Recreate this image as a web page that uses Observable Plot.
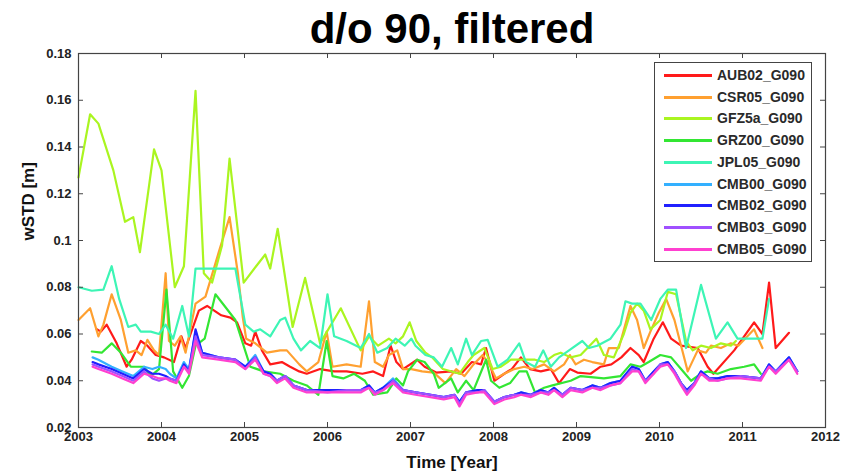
<!DOCTYPE html>
<html><head><meta charset="utf-8">
<script src="https://cdn.jsdelivr.net/npm/d3@7"></script>
<script src="https://cdn.jsdelivr.net/npm/@observablehq/plot@0.6"></script>
<style>
body{margin:0;background:#fff;}
#wrap{position:relative;width:841px;height:472px;font-family:Arial,"Liberation Sans",sans-serif;}
#legend{position:absolute;left:654px;top:62px;width:158px;height:200px;border:1px solid #444;background:#fff;box-sizing:border-box;}
.row{position:absolute;left:0;height:20px;display:flex;align-items:center;}
.sw{width:48px;height:3px;margin-left:9px;margin-right:5px;}
.lbl{font-size:14px;font-weight:bold;color:#2a2a2a;white-space:nowrap;}
</style></head>
<body><div id="wrap"><div id="legend"></div></div>
<script>
const title = "d/o 90, filtered";
const xLabel = "Time [Year]";
const yLabel = "wSTD [m]";
const xTicks = [2003, 2004, 2005, 2006, 2007, 2008, 2009, 2010, 2011, 2012];
const yTicks = [0.02, 0.04, 0.06, 0.08, 0.1, 0.12, 0.14, 0.16, 0.18];
const seriesNames = ["AUB02_G090", "CSR05_G090", "GFZ5a_G090", "GRZ00_G090", "JPL05_G090", "CMB00_G090", "CMB02_G090", "CMB03_G090", "CMB05_G090"];
const seriesColors = ["#ff1a1a", "#ffa030", "#aaf520", "#33e633", "#3df5b5", "#33b0ff", "#2020ff", "#a050ff", "#ff40d0"];

const aub02 = [[2003.22,.062],[2003.27,.061],[2003.34,.064],[2003.46,.056],[2003.58,.046],[2003.64,.049],[2003.75,.057],[2003.83,.055],[2003.93,.051],[2004.03,.050],[2004.15,.048],[2004.24,.059],[2004.29,.054],[2004.35,.060],[2004.45,.070],[2004.55,.072],[2004.72,.068],[2004.83,.067],[2004.91,.065],[2005.01,.056],[2005.08,.055],[2005.13,.061],[2005.21,.053],[2005.31,.047],[2005.45,.048],[2005.55,.046],[2005.66,.044],[2005.75,.043],[2005.91,.045],[2006.08,.044],[2006.23,.044],[2006.42,.043],[2006.55,.044],[2006.67,.042],[2006.76,.055],[2006.83,.048],[2006.91,.045],[2007.08,.049],[2007.17,.046],[2007.31,.0435],[2007.49,.044],[2007.61,.043],[2007.74,.048],[2007.85,.047],[2007.91,.054],[2008.01,.040],[2008.13,.043],[2008.22,.045],[2008.33,.050],[2008.44,.045],[2008.57,.044],[2008.69,.045],[2008.79,.039],[2008.92,.045],[2009.01,.0435],[2009.17,.043],[2009.29,.046],[2009.42,.047],[2009.54,.050],[2009.65,.054],[2009.75,.051],[2009.81,.048],[2009.93,.058],[2010.04,.065],[2010.14,.058],[2010.26,.055],[2010.46,.054],[2010.58,.046],[2010.65,.043],[2010.9,.053],[2011.14,.065],[2011.24,.060],[2011.32,.082],[2011.40,.054],[2011.56,.0605]];

const csr05 = [[2003.0,.066],[2003.14,.071],[2003.24,.059],[2003.30,.064],[2003.40,.077],[2003.51,.066],[2003.60,.052],[2003.69,.053],[2003.76,.051],[2003.83,.0575],[2003.91,.053],[2003.97,.051],[2004.05,.086],[2004.09,.057],[2004.16,.055],[2004.23,.059],[2004.29,.052],[2004.41,.073],[2004.53,.076],[2004.69,.095],[2004.82,.110],[2004.92,.086],[2004.98,.067],[2005.02,.058],[2005.13,.056],[2005.27,.052],[2005.43,.053],[2005.51,.053],[2005.66,.047],[2005.75,.044],[2005.89,.048],[2005.99,.061],[2006.06,.046],[2006.23,.047],[2006.40,.046],[2006.50,.074],[2006.57,.048],[2006.67,.046],[2006.74,.051],[2006.84,.053],[2006.91,.045],[2007.01,.045],[2007.14,.044],[2007.28,.0435],[2007.42,.039],[2007.55,.045],[2007.65,.042],[2007.76,.047],[2007.87,.051],[2007.95,.047],[2008.03,.041],[2008.13,.043],[2008.25,.045],[2008.37,.046],[2008.47,.045],[2008.61,.047],[2008.73,.044],[2008.85,.047],[2008.92,.051],[2008.99,.047],[2009.09,.049],[2009.19,.048],[2009.33,.047],[2009.39,.054],[2009.51,.054],[2009.65,.072],[2009.73,.066],[2009.81,.054],[2009.89,.061],[2009.99,.069],[2010.08,.075],[2010.18,.066],[2010.26,.055],[2010.34,.044],[2010.46,.053],[2010.56,.052],[2010.62,.055],[2010.74,.054],[2010.86,.056],[2010.95,.055],[2011.14,.062],[2011.24,.054]];

const gfz5a = [[2003.0,.127],[2003.14,.154],[2003.24,.150],[2003.42,.130],[2003.56,.108],[2003.66,.110],[2003.74,.095],[2003.91,.139],[2004.0,.130],[2004.16,.080],[2004.27,.089],[2004.41,.164],[2004.51,.086],[2004.61,.082],[2004.73,.098],[2004.82,.135],[2004.92,.104],[2004.99,.082],[2005.14,.089],[2005.25,.094],[2005.31,.088],[2005.40,.105],[2005.58,.063],[2005.73,.084],[2005.91,.056],[2006.16,.071],[2006.40,.053],[2006.50,.059],[2006.61,.055],[2006.74,.058],[2006.82,.056],[2006.91,.059],[2006.99,.065],[2007.07,.057],[2007.18,.052],[2007.26,.050],[2007.39,.045],[2007.59,.043],[2007.69,.048],[2007.76,.051],[2007.89,.054],[2007.99,.045],[2008.09,.046],[2008.21,.049],[2008.33,.049],[2008.50,.049],[2008.61,.048],[2008.73,.051],[2008.81,.052],[2008.93,.050],[2009.05,.051],[2009.24,.058],[2009.33,.051],[2009.45,.050],[2009.57,.060],[2009.65,.069],[2009.73,.073],[2009.81,.070],[2009.89,.062],[2010.01,.066],[2010.10,.078],[2010.20,.077],[2010.32,.057],[2010.40,.053],[2010.50,.055],[2010.62,.054],[2010.74,.056],[2010.86,.055],[2010.92,.057]];

const grz00 = [[2003.16,.0525],[2003.28,.052],[2003.40,.056],[2003.51,.052],[2003.63,.046],[2003.79,.046],[2003.87,.042],[2003.97,.045],[2004.06,.079],[2004.14,.044],[2004.25,.037],[2004.33,.042],[2004.41,.055],[2004.52,.058],[2004.65,.077],[2004.76,.072],[2004.89,.066],[2004.98,.056],[2005.07,.046],[2005.23,.044],[2005.43,.043],[2005.59,.040],[2005.75,.038],[2005.89,.034],[2005.99,.057],[2006.06,.042],[2006.19,.041],[2006.32,.043],[2006.45,.040],[2006.55,.034],[2006.72,.035],[2006.83,.041],[2006.91,.038],[2006.97,.044],[2007.08,.049],[2007.17,.048],[2007.28,.043],[2007.34,.037],[2007.49,.041],[2007.57,.035],[2007.67,.040],[2007.76,.036],[2007.91,.049],[2007.97,.040],[2008.07,.037],[2008.20,.039],[2008.31,.044],[2008.40,.044],[2008.50,.035],[2008.61,.037],[2008.71,.038],[2008.93,.040],[2009.05,.042],[2009.33,.041],[2009.53,.042],[2009.65,.047],[2009.77,.046],[2009.87,.048],[2010.01,.051],[2010.14,.050],[2010.26,.045],[2010.38,.040],[2010.50,.043],[2010.58,.044],[2010.70,.043],[2010.86,.045],[2011.02,.046],[2011.14,.047],[2011.22,.043]];

const jpl05 = [[2003.0,.080],[2003.16,.0785],[2003.30,.079],[2003.40,.089],[2003.49,.075],[2003.60,.063],[2003.69,.064],[2003.75,.061],[2003.87,.061],[2003.97,.060],[2004.05,.064],[2004.14,.058],[2004.25,.072],[2004.33,.059],[2004.41,.088],[2004.89,.088],[2005.01,.064],[2005.11,.061],[2005.19,.062],[2005.31,.059],[2005.43,.066],[2005.49,.067],[2005.59,.058],[2005.68,.053],[2005.79,.057],[2005.91,.054],[2006.00,.077],[2006.08,.059],[2006.23,.057],[2006.40,.054],[2006.50,.060],[2006.60,.052],[2006.72,.054],[2006.82,.058],[2006.93,.055],[2007.01,.058],[2007.06,.055],[2007.18,.051],[2007.28,.050],[2007.38,.046],[2007.49,.054],[2007.57,.047],[2007.67,.058],[2007.74,.051],[2007.85,.057],[2007.93,.0575],[2008.05,.046],[2008.17,.049],[2008.31,.056],[2008.39,.048],[2008.50,.046],[2008.60,.053],[2008.69,.046],[2008.79,.050],[2008.91,.053],[2009.07,.057],[2009.15,.054],[2009.25,.055],[2009.41,.058],[2009.53,.064],[2009.59,.074],[2009.67,.073],[2009.77,.073],[2009.90,.066],[2010.01,.075],[2010.10,.079],[2010.20,.079],[2010.32,.054],[2010.50,.081],[2010.68,.058],[2010.82,.065],[2010.94,.058],[2011.24,.058],[2011.32,.075]];

const cmbYears = [2003.17,2003.24,2003.40,2003.53,2003.66,2003.79,2003.89,2003.97,2004.05,2004.10,2004.18,2004.27,2004.33,2004.41,2004.49,2004.69,2004.89,2005.01,2005.13,2005.23,2005.31,2005.39,2005.49,2005.59,2005.75,2006.00,2006.23,2006.40,2006.50,2006.57,2006.67,2006.79,2006.91,2007.06,2007.24,2007.40,2007.53,2007.59,2007.67,2007.81,2007.89,2008.01,2008.13,2008.25,2008.33,2008.45,2008.57,2008.66,2008.73,2008.83,2008.93,2009.07,2009.19,2009.29,2009.41,2009.53,2009.67,2009.75,2009.83,2009.93,2010.01,2010.10,2010.18,2010.26,2010.33,2010.42,2010.50,2010.60,2010.70,2010.82,2010.98,2011.22,2011.32,2011.40,2011.56,2011.66];
const cmb00 = [.050,.049,.046,.044,.042,.046,.045,.046,.045,.043,.041,.048,.045,.061,.052,.050,.049,.046,.051,.044,.043,.040,.042,.038,.036,.036,.036,.036,.038,.035,.037,.041,.036,.035,.034,.033,.034,.031,.035,.036,.036,.031,.033,.034,.035,.034,.036,.035,.037,.034,.037,.036,.038,.037,.039,.040,.046,.045,.040,.044,.047,.048,.044,.039,.036,.039,.044,.041,.041,.042,.042,.041,.047,.044,.050,.044];
const cmb02 = [.048,.047,.045,.043,.041,.045,.043,.043,.042,.041,.040,.047,.044,.062,.052,.050,.049,.046,.050,.044,.043,.040,.042,.038,.036,.036,.036,.036,.038,.035,.037,.040,.036,.035,.034,.033,.034,.031,.035,.036,.036,.031,.033,.034,.035,.034,.036,.035,.037,.034,.037,.036,.038,.037,.039,.040,.046,.045,.040,.044,.047,.048,.044,.039,.036,.039,.044,.041,.041,.042,.042,.041,.047,.044,.050,.044];
const cmb03 = [.047,.046,.044,.042,.040,.044,.041,.040,.041,.041,.040,.046,.044,.059,.051,.050,.049,.045,.050,.043,.042,.040,.042,.038,.036,.035,.036,.036,.037,.035,.036,.040,.036,.035,.034,.033,.034,.030,.035,.035,.036,.031,.033,.034,.034,.034,.035,.035,.036,.034,.037,.036,.037,.037,.038,.039,.045,.044,.040,.043,.047,.047,.044,.039,.035,.039,.043,.041,.040,.041,.042,.041,.046,.044,.049,.044];
const cmb05 = [.046,.045,.043,.041,.039,.043,.042,.041,.041,.040,.039,.046,.043,.057,.050,.049,.048,.045,.049,.043,.042,.039,.041,.037,.035,.035,.035,.035,.037,.034,.036,.039,.035,.034,.033,.032,.033,.029,.034,.035,.035,.030,.032,.033,.034,.033,.035,.034,.036,.033,.036,.035,.037,.036,.038,.039,.044,.044,.039,.043,.046,.047,.043,.038,.034,.038,.043,.040,.040,.041,.041,.040,.046,.043,.049,.043];

const cmbPairs = vals => cmbYears.map((t, i) => [t, vals[i]]);
const seriesData = [aub02, csr05, gfz5a, grz00, jpl05, cmbPairs(cmb00), cmbPairs(cmb02), cmbPairs(cmb03), cmbPairs(cmb05)];
const series = seriesNames.map((name, i) => ({name, color: seriesColors[i], data: seriesData[i].map(([t, v]) => ({t, v}))}));

const W = 841, H = 472, mL = 78, mR = 16, mT = 53, mB = 45;
const fw = W - mL - mR, fh = H - mT - mB, tk = 5;
const axisColor = "#444";

const chart = Plot.plot({
  width: W, height: H,
  marginLeft: mL, marginRight: mR, marginTop: mT, marginBottom: mB,
  style: {fontFamily: "Arial, 'Liberation Sans', sans-serif", background: "transparent", color: "#222"},
  x: {domain: [2003, 2012]},
  y: {domain: [0.02, 0.18]},
  marks: [
    ...series.map(s => Plot.line(s.data, {x: "t", y: "v", stroke: s.color, strokeWidth: 2.2})),
    Plot.tickX(xTicks, {x: d => d, stroke: axisColor, insetTop: fh - tk}),
    Plot.tickX(xTicks, {x: d => d, stroke: axisColor, insetBottom: fh - tk}),
    Plot.tickY(yTicks, {y: d => d, stroke: axisColor, insetRight: fw - tk}),
    Plot.tickY(yTicks, {y: d => d, stroke: axisColor, insetLeft: fw - tk}),
    Plot.frame({stroke: axisColor, strokeWidth: 1.2}),
    Plot.axisX(xTicks, {tickSize: 0, tickPadding: 4, tickFormat: d => String(d), fontSize: 13, fontWeight: "bold", label: null}),
    Plot.axisY(yTicks, {tickSize: 0, tickPadding: 7, tickFormat: d => String(+d.toFixed(2)), fontSize: 13, fontWeight: "bold", label: null}),
    Plot.text([xLabel], {frameAnchor: "bottom", lineAnchor: "middle", dy: 35, fontSize: 17, fontWeight: "bold", fill: "#111"}),
    Plot.text([yLabel], {frameAnchor: "left", dx: -50, rotate: -90, fontSize: 17, fontWeight: "bold", fill: "#111"}),
    Plot.text([title], {frameAnchor: "top", lineAnchor: "middle", dy: -24, fontSize: 42, fontWeight: "bold", fill: "#000"})
  ]
});
const wrap = document.getElementById("wrap");
wrap.insertBefore(chart, wrap.firstChild);

const legend = document.getElementById("legend");
series.forEach((s, i) => {
  const row = document.createElement("div");
  row.className = "row";
  row.style.top = Math.round(2 + i * 21.7) + "px";
  const sw = document.createElement("div");
  sw.className = "sw";
  sw.style.background = s.color;
  const lb = document.createElement("span");
  lb.className = "lbl";
  lb.textContent = s.name;
  row.appendChild(sw); row.appendChild(lb);
  legend.appendChild(row);
});
</script></body></html>
